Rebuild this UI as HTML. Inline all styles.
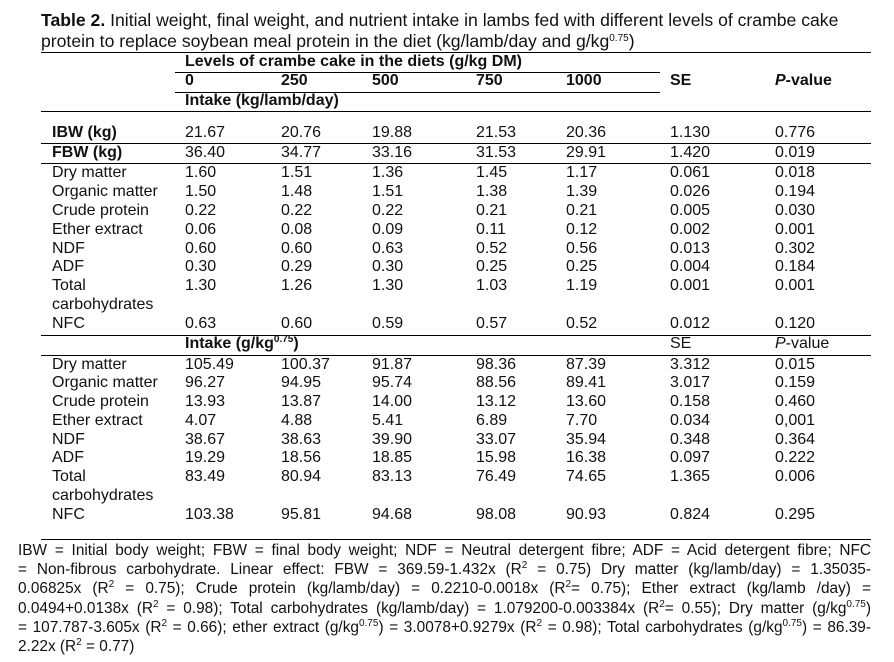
<!DOCTYPE html>
<html><head><meta charset="utf-8"><style>
body{margin:0;width:894px;height:662px;background:#fff;font-family:"Liberation Sans",Arial,sans-serif;color:#111;position:relative;overflow:hidden}
.t{position:absolute;white-space:nowrap;font-size:16px;line-height:18px}
.b{font-weight:bold}
.l{position:absolute;height:1.3px;background:#000}
.ttl{position:absolute;left:41px;font-size:17.6px;line-height:20px;white-space:nowrap}
.fl{position:absolute;left:18px;width:853px;font-size:15.4px;line-height:19px;text-align:justify;text-align-last:justify;white-space:normal}
.fl.last{text-align-last:left}
sup{font-size:10px;vertical-align:6px;line-height:0}
</style></head><body>
<div class="ttl" style="top:10px"><b>Table 2.</b> Initial weight, final weight, and nutrient intake in lambs fed with different levels of crambe cake</div>
<div class="ttl" style="top:31px">protein to replace soybean meal protein in the diet (kg/lamb/day and g/kg<sup>0.75</sup>)</div>
<div class="l" style="left:41px;width:830px;top:52px"></div>
<div class="l" style="left:175px;width:485px;top:72px"></div>
<div class="l" style="left:175px;width:485px;top:92px"></div>
<div class="l" style="left:41px;width:830px;top:111px"></div>
<div class="l" style="left:41px;width:830px;top:143px"></div>
<div class="l" style="left:41px;width:830px;top:163px"></div>
<div class="l" style="left:41px;width:830px;top:335px"></div>
<div class="l" style="left:41px;width:830px;top:355px"></div>
<div class="l" style="left:41px;width:830px;top:539px"></div>
<div class="t b" style="left:185px;top:53px">Levels of crambe cake in the diets (g/kg DM)</div>
<div id="tbl"></div>
<div>
<div class="fl" style="top:541px">IBW = Initial body weight; FBW = final body weight; NDF = Neutral detergent fibre; ADF = Acid detergent fibre; NFC</div>
<div class="fl" style="top:560px">= Non-fibrous carbohydrate. Linear effect: FBW = 369.59-1.432x (R<sup>2</sup> = 0.75) Dry matter (kg/lamb/day) = 1.35035-</div>
<div class="fl" style="top:579px">0.06825x (R<sup>2</sup> = 0.75); Crude protein (kg/lamb/day) = 0.2210-0.0018x (R<sup>2</sup>= 0.75); Ether extract (kg/lamb /day) =</div>
<div class="fl" style="top:599px">0.0494+0.0138x (R<sup>2</sup> = 0.98); Total carbohydrates (kg/lamb/day) = 1.079200-0.003384x (R<sup>2</sup>= 0.55); Dry matter (g/kg<sup>0.75</sup>)</div>
<div class="fl" style="top:618px">= 107.787-3.605x (R<sup>2</sup> = 0.66); ether extract (g/kg<sup>0.75</sup>) = 3.0078+0.9279x (R<sup>2</sup> = 0.98); Total carbohydrates (g/kg<sup>0.75</sup>) = 86.39-</div>
<div class="fl last" style="top:637px">2.22x (R<sup>2</sup> = 0.77)</div>
</div>
<script>
const colX=[185,281,372,476,566,670,775];
const header=['0','250','500','750','1000','SE','<i>P</i>-value'];
const rows1=[
['IBW (kg)',134,1,['21.67','20.76','19.88','21.53','20.36','1.130','0.776']],
['FBW (kg)',154,1,['36.40','34.77','33.16','31.53','29.91','1.420','0.019']],
['Dry matter',174,0,['1.60','1.51','1.36','1.45','1.17','0.061','0.018']],
['Organic matter',193,0,['1.50','1.48','1.51','1.38','1.39','0.026','0.194']],
['Crude protein',212,0,['0.22','0.22','0.22','0.21','0.21','0.005','0.030']],
['Ether extract',231,0,['0.06','0.08','0.09','0.11','0.12','0.002','0.001']],
['NDF',250,0,['0.60','0.60','0.63','0.52','0.56','0.013','0.302']],
['ADF',268,0,['0.30','0.29','0.30','0.25','0.25','0.004','0.184']],
['Total',287,0,['1.30','1.26','1.30','1.03','1.19','0.001','0.001']],
['carbohydrates',306,0,[]],
['NFC',325,0,['0.63','0.60','0.59','0.57','0.52','0.012','0.120']],
['Dry matter',366,0,['105.49','100.37','91.87','98.36','87.39','3.312','0.015']],
['Organic matter',384,0,['96.27','94.95','95.74','88.56','89.41','3.017','0.159']],
['Crude protein',403,0,['13.93','13.87','14.00','13.12','13.60','0.158','0.460']],
['Ether extract',422,0,['4.07','4.88','5.41','6.89','7.70','0.034','0,001']],
['NDF',441,0,['38.67','38.63','39.90','33.07','35.94','0.348','0.364']],
['ADF',459,0,['19.29','18.56','18.85','15.98','16.38','0.097','0.222']],
['Total',478,0,['83.49','80.94','83.13','76.49','74.65','1.365','0.006']],
['carbohydrates',497,0,[]],
['NFC',516,0,['103.38','95.81','94.68','98.08','90.93','0.824','0.295']]
];
const root=document.getElementById('tbl');
function add(txt,x,y,bold,name){const d=document.createElement('div');d.className='t'+(bold?' b':'');d.style.left=x+'px';d.style.top=(y-10)+'px';d.innerHTML=txt;


root.appendChild(d);}
header.forEach((h,i)=>add(h,colX[i],82,1,'col-header'));
add('Intake (kg/lamb/day)',185,102,1,'section-header');
add('Intake (g/kg<sup>0.75</sup>)',185,345,1,'section-header');
add('SE',670,345,0,'col-header');
add('<i>P</i>-value',775,345,0,'col-header');
rows1.forEach(r=>{add(r[0],52,r[1],r[2],'row-label');r[3].forEach((v,i)=>add(v,colX[i],r[1],0,'cell-value'));});
</script>
</body></html>
